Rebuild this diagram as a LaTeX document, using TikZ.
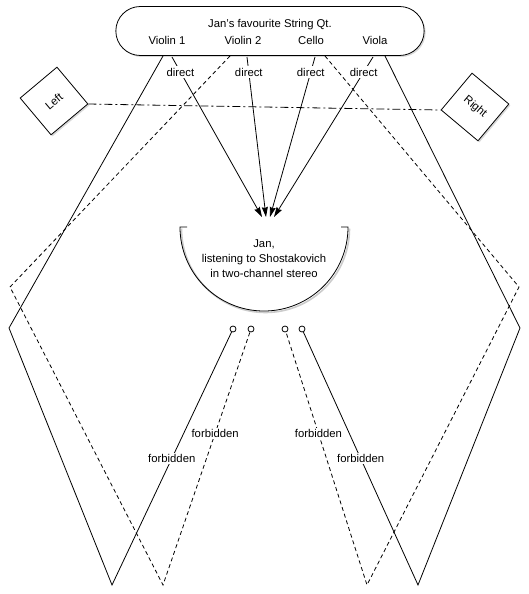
\documentclass[tikz,border=0pt]{standalone}
\usepackage{fontspec}
\setmainfont{Liberation Sans}
\usetikzlibrary{arrows.meta,shapes.misc,shadows}

\tikzset{
  softshadow/.style={drop shadow={opacity=0.3,shadow xshift=1.5pt,shadow yshift=-1.5pt}},
  quartetbox/.style={draw,fill=white,rounded rectangle,minimum width=315,minimum height=49,softshadow},
  speaker/.style={draw,fill=white,minimum size=48,softshadow},
  ear/.style={draw,circle,fill=white,inner sep=0pt,minimum size=6},
  tag/.style={fill=white,inner sep=1.5pt},
  heard/.style={-{Stealth[length=10pt,width=6pt,inset=1pt]}},
  leak/.style={dash pattern=on 4pt off 3pt},
}

\begin{document}
\begin{tikzpicture}[x=1pt,y=-1pt,line width=0.8pt,font=\fontsize{11.3}{15}\selectfont]
\useasboundingbox (0,0) rectangle (529,594);

% the quartet
\node[quartetbox] (quartet) at (270,31) {};
\node (title) at (270,25) {Jan's favourite String Qt.};
\node (v1) at (167,40) {Violin 1};
\node (v2) at (243,40) {Violin 2};
\node (vc) at (311,40) {Cello};
\node (va) at (375,40) {Viola};

% loudspeakers
\node[speaker,rotate=40] (left) at (54,101) {Left};
\node[speaker,rotate=-40] (right) at (475,107) {Right};
\draw[dash pattern=on 8pt off 3pt on 2pt off 3pt] (left.south east) -- (right.south west);

% Jan
\draw[gray!40,line width=1.6pt] (181.5,228.5) arc[start angle=180,end angle=0,radius=84];
\draw (187,227) -- (180,227) arc[start angle=180,end angle=0,radius=84] -- (341,227);
\node[align=center] (jan) at (264,259) {Jan,\\listening to Shostakovich\\in two-channel stereo};

% direct sound
\foreach \i/\a/\b in {1/172/262,2/247/266,3/315/270,4/373/274}{
  \coordinate (d\i) at (\a,57);
  \coordinate (h\i) at (\b,217);
  \draw[heard] (d\i) -- node[tag,pos=0.094] {direct} (h\i);
}

% channels round the room
\coordinate (s1) at (163,56);
\coordinate (s2) at (230,56);
\coordinate (s3) at (325,56);
\coordinate (s4) at (385,56);
\coordinate (a1) at (9,328);
\coordinate (a2) at (10,287);
\coordinate (a3) at (519,287);
\coordinate (a4) at (520,328);
\coordinate (b1) at (112,585);
\coordinate (b2) at (163,585);
\coordinate (b3) at (367,585);
\coordinate (b4) at (418,585);
\node[ear] (c1) at (233,329) {};
\node[ear] (c2) at (251,329) {};
\node[ear] (c3) at (285,329) {};
\node[ear] (c4) at (302,329) {};

\draw (s1) -- (a1) -- (b1) -- node[tag] {forbidden} (c1);
\draw[leak] (s2) -- (a2) -- (b2) -- node[tag,pos=0.6] {forbidden} (c2);
\draw[leak] (s3) -- (a3) -- (b3) -- node[tag,pos=0.6] {forbidden} (c3);
\draw (s4) -- (a4) -- (b4) -- node[tag] {forbidden} (c4);
\end{tikzpicture}
\end{document}
